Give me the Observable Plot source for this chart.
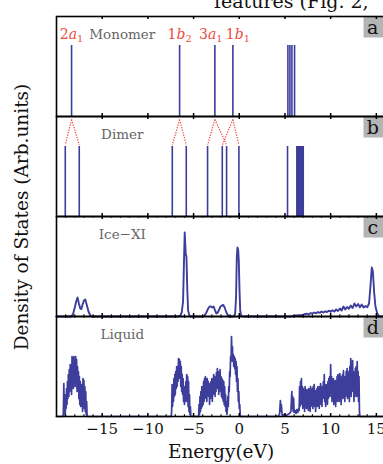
<!DOCTYPE html>
<html><head><meta charset="utf-8">
<script src="https://cdn.jsdelivr.net/npm/d3@7"></script>
<script src="https://cdn.jsdelivr.net/npm/@observablehq/plot@0.6"></script>
<style>
html,body{margin:0;padding:0;background:#fff;}
#wrap{position:relative;width:383px;height:464px;overflow:hidden;background:#fff;}
#chart{position:absolute;left:0;top:0;}
#chart svg{max-width:none;}
.txt{position:absolute;font-family:"DejaVu Serif",serif;color:#111;white-space:nowrap;line-height:1;}
#cut{left:214px;top:-8px;font-size:19px;}
#ylab{left:22px;top:217px;font-size:18.5px;transform:translate(-50%,-50%) rotate(-90deg);}
#xlab{left:221px;top:443px;font-size:18.5px;transform:translateX(-50%);}
</style></head>
<body><div id="wrap"><div id="chart"></div>
<div class="txt" id="cut">features (Fig. 2,</div>
<div class="txt" id="ylab">Density of States (Arb.units)</div>
<div class="txt" id="xlab">Energy(eV)</div>
</div>
<script>
// ---- data ----
const panels = ["a", "b", "c", "d"];
const panelNames = ["Monomer", "Dimer", "Ice\u2212XI", "Liquid"];
const xTicks = [-15, -10, -5, 0, 5, 10, 15];
const minorTicks = [-19,-18,-17,-16,-14,-13,-12,-11,-9,-8,-7,-6,-4,-3,-2,-1,1,2,3,4,6,7,8,9,11,12,13,14];

// monomer levels (eV)
const monomerE = [-18.35, -6.53, -2.67, -0.70, 5.32, 5.54, 5.76, 6.05];
const orbitalNames = ["2a1", "1b2", "3a1", "1b1"];
const orbitalE = [-18.35, -6.53, -2.67, -0.70];
// dimer levels (eV)
const dimerE = [-19.04, -17.51, -7.33, -5.80, -3.47, -1.86, -1.39, -0.04, 5.28,
  6.30, 6.40, 6.50, 6.60, 6.70, 6.80, 6.90, 7.00];
// monomer -> dimer splitting [from, to]
const splits = [[-18.35, -19.04], [-18.35, -17.51], [-6.53, -7.33], [-6.53, -5.80],
  [-2.67, -3.47], [-2.67, -1.39], [-0.70, -1.86], [-0.70, -0.04]];
const monomerH = 0.71, dimerH = 0.70;

// Ice-XI DOS [E, dos]
const iceXI = [[-20,0],[-18.4,0],[-18.2,0.02],[-18.0,0.09],[-17.85,0.15],[-17.7,0.19],[-17.55,0.13],[-17.4,0.08],[-17.27,0.075],[-17.15,0.12],[-17.0,0.16],[-16.85,0.17],[-16.7,0.12],[-16.5,0.05],[-16.3,0.01],[-16.1,0],
[-6.7,0],[-6.45,0.01],[-6.3,0.04],[-6.15,0.15],[-6.05,0.55],[-5.97,0.84],[-5.9,0.7],[-5.85,0.62],[-5.78,0.6],[-5.7,0.3],[-5.6,0.06],[-5.45,0.01],[-5.3,0],
[-4.0,0],[-3.8,0.01],[-3.6,0.04],[-3.4,0.08],[-3.25,0.1],[-3.1,0.1],[-2.95,0.09],[-2.8,0.1],[-2.65,0.06],[-2.5,0.03],[-2.35,0.04],[-2.2,0.07],[-2.05,0.1],[-1.9,0.11],[-1.75,0.115],[-1.6,0.09],[-1.45,0.05],[-1.3,0.02],[-1.1,0],
[-0.6,0],[-0.45,0.03],[-0.35,0.2],[-0.27,0.6],[-0.2,0.69],[-0.12,0.67],[-0.05,0.55],[0.03,0.25],[0.1,0.06],[0.2,0.01],[0.4,0],
[5.6,0],[5.9,0.005],[6.2,0.01],[6.5,0.014],[6.8,0.012],[7.1,0.022],[7.4,0.028],[7.6,0.02],[7.8,0.034],[8.0,0.03],[8.2,0.04],[8.4,0.032],[8.6,0.045],[8.8,0.036],[9.0,0.05],[9.2,0.04],[9.4,0.052],[9.6,0.045],[9.8,0.058],[10.0,0.048],[10.2,0.062],[10.4,0.05],[10.6,0.07],[10.8,0.055],[11.0,0.08],[11.2,0.06],[11.4,0.1],[11.6,0.07],[11.8,0.095],[12.0,0.078],[12.2,0.11],[12.4,0.085],[12.6,0.13],[12.8,0.1],[13.0,0.125],[13.2,0.092],[13.4,0.12],[13.6,0.09],[13.8,0.105],[14.0,0.092],[14.2,0.13],[14.35,0.3],[14.5,0.49],[14.62,0.45],[14.75,0.25],[14.9,0.1],[15.1,0.03],[15.3,0],[16,0]];

// Liquid DOS [E, dos]
const liquid = [[-20,0],[-19.35,0],[-19.25,0.02],[-19.2,0.33],[-19.15,0.04],[-19.1,0.22],[-19.05,0.0],[-19.0,0.18],[-18.95,0.08],[-18.9,0.28],[-18.85,0.12],[-18.8,0.35],[-18.75,0.18],[-18.7,0.42],[-18.65,0.2],[-18.6,0.47],[-18.55,0.25],[-18.5,0.52],[-18.45,0.3],[-18.4,0.5],[-18.35,0.22],[-18.3,0.6],[-18.25,0.35],[-18.2,0.58],[-18.15,0.28],[-18.1,0.6],[-18.05,0.4],[-18.0,0.55],[-17.95,0.3],[-17.9,0.6],[-17.85,0.32],[-17.8,0.57],[-17.75,0.25],[-17.7,0.5],[-17.65,0.3],[-17.6,0.45],[-17.55,0.18],[-17.5,0.4],[-17.45,0.12],[-17.4,0.35],[-17.35,0.1],[-17.3,0.32],[-17.25,0.15],[-17.2,0.28],[-17.15,0.05],[-17.1,0.38],[-17.05,0.12],[-17.0,0.36],[-16.95,0.08],[-16.9,0.3],[-16.85,0.05],[-16.8,0.25],[-16.75,0.02],[-16.7,0.15],[-16.65,0],
[-7.45,0],[-7.4,0.05],[-7.35,0.32],[-7.3,0.1],[-7.25,0.3],[-7.2,0.15],[-7.15,0.38],[-7.1,0.2],[-7.05,0.42],[-7.0,0.22],[-6.95,0.45],[-6.9,0.28],[-6.85,0.5],[-6.8,0.3],[-6.75,0.48],[-6.7,0.35],[-6.65,0.58],[-6.6,0.38],[-6.55,0.57],[-6.5,0.4],[-6.45,0.55],[-6.4,0.3],[-6.35,0.5],[-6.3,0.25],[-6.25,0.42],[-6.2,0.22],[-6.15,0.38],[-6.1,0.15],[-6.05,0.3],[-6.0,0.12],[-5.95,0.25],[-5.9,0.2],[-5.85,0.35],[-5.8,0.15],[-5.75,0.42],[-5.7,0.18],[-5.65,0.4],[-5.6,0.1],[-5.55,0.35],[-5.5,0.05],[-5.45,0.22],[-5.4,0.02],[-5.35,0.1],[-5.3,0],
[-4.45,0],[-4.4,0.12],[-4.35,0.02],[-4.3,0.2],[-4.25,0.05],[-4.2,0.25],[-4.15,0.08],[-4.1,0.3],[-4.05,0.1],[-4.0,0.28],[-3.95,0.12],[-3.9,0.35],[-3.85,0.15],[-3.8,0.38],[-3.75,0.18],[-3.7,0.4],[-3.65,0.2],[-3.6,0.36],[-3.55,0.15],[-3.5,0.38],[-3.45,0.22],[-3.4,0.35],[-3.35,0.2],[-3.3,0.33],[-3.25,0.12],[-3.2,0.3],[-3.15,0.18],[-3.1,0.35],[-3.05,0.2],[-3.0,0.38],[-2.95,0.15],[-2.9,0.34],[-2.85,0.22],[-2.8,0.42],[-2.75,0.25],[-2.7,0.4],[-2.65,0.2],[-2.6,0.38],[-2.55,0.25],[-2.5,0.44],[-2.45,0.3],[-2.4,0.48],[-2.35,0.28],[-2.3,0.45],[-2.25,0.22],[-2.2,0.42],[-2.15,0.3],[-2.1,0.47],[-2.05,0.25],[-2.0,0.4],[-1.95,0.2],[-1.9,0.38],[-1.85,0.18],[-1.8,0.36],[-1.75,0.15],[-1.7,0.35],[-1.65,0.12],[-1.6,0.3],[-1.55,0.1],[-1.5,0.22],[-1.45,0.05],[-1.4,0.15],[-1.35,0.02],[-1.3,0.08],[-1.25,0.2],[-1.2,0.1],[-1.15,0.3],[-1.1,0.25],[-1.05,0.45],[-1.0,0.4],[-0.95,0.6],[-0.9,0.55],[-0.85,0.8],[-0.8,0.6],[-0.75,0.7],[-0.7,0.55],[-0.65,0.62],[-0.6,0.5],[-0.55,0.6],[-0.5,0.48],[-0.45,0.58],[-0.4,0.42],[-0.35,0.55],[-0.3,0.35],[-0.25,0.5],[-0.2,0.25],[-0.15,0.38],[-0.1,0.15],[-0.05,0.25],[0.0,0.08],[0.05,0.12],[0.1,0.02],[0.15,0],
[4.2,0],[4.4,0.02],[4.5,0.16],[4.55,0.05],[4.6,0.12],[4.7,0.01],[4.9,0.02],[5.1,0.01],[5.3,0.02],[5.5,0.03],[5.65,0.05],[5.75,0.25],[5.8,0.08],[5.85,0.2],[5.9,0.05],[5.95,0.18],[6.0,0.04],[6.1,0.06],[6.2,0.03],[6.3,0.07],[6.4,0.04],[6.5,0.08],[6.55,0.06],[6.6,0.3],[6.65,0.1],[6.7,0.35],[6.75,0.12],[6.8,0.38],[6.85,0.15],[6.9,0.3],[6.95,0.08],[7.0,0.28],[7.05,0.1],[7.1,0.25],[7.15,0.05],[7.2,0.3],[7.25,0.12],[7.3,0.22],[7.35,0.08],[7.4,0.27],[7.45,0.1],[7.5,0.25],[7.55,0.06],[7.6,0.28],[7.65,0.12],[7.7,0.22],[7.75,0.05],[7.8,0.3],[7.85,0.1],[7.9,0.25],[7.95,0.12],[8.0,0.28],[8.05,0.08],[8.1,0.3],[8.15,0.15],[8.2,0.32],[8.25,0.1],[8.3,0.26],[8.35,0.05],[8.4,0.22],[8.45,0.12],[8.5,0.28],[8.55,0.1],[8.6,0.3],[8.65,0.14],[8.7,0.25],[8.75,0.08],[8.8,0.3],[8.85,0.12],[8.9,0.33],[8.95,0.15],[9.0,0.3],[9.05,0.1],[9.1,0.28],[9.15,0.18],[9.2,0.35],[9.25,0.2],[9.3,0.42],[9.35,0.15],[9.4,0.3],[9.45,0.1],[9.5,0.32],[9.55,0.15],[9.6,0.3],[9.65,0.12],[9.7,0.35],[9.75,0.18],[9.8,0.38],[9.85,0.2],[9.9,0.4],[9.95,0.25],[10.0,0.52],[10.05,0.2],[10.1,0.4],[10.15,0.15],[10.2,0.35],[10.25,0.2],[10.3,0.38],[10.35,0.12],[10.4,0.33],[10.45,0.18],[10.5,0.36],[10.55,0.1],[10.6,0.35],[10.65,0.2],[10.7,0.4],[10.75,0.15],[10.8,0.42],[10.85,0.22],[10.9,0.38],[10.95,0.15],[11.0,0.43],[11.05,0.2],[11.1,0.4],[11.15,0.12],[11.2,0.35],[11.25,0.2],[11.3,0.42],[11.35,0.18],[11.4,0.46],[11.45,0.25],[11.5,0.4],[11.55,0.15],[11.6,0.38],[11.65,0.2],[11.7,0.45],[11.75,0.22],[11.8,0.48],[11.85,0.18],[11.9,0.42],[11.95,0.25],[12.0,0.45],[12.05,0.15],[12.1,0.5],[12.15,0.3],[12.2,0.58],[12.25,0.2],[12.3,0.48],[12.35,0.25],[12.4,0.56],[12.45,0.3],[12.5,0.45],[12.55,0.15],[12.6,0.42],[12.65,0.2],[12.7,0.48],[12.75,0.25],[12.8,0.5],[12.85,0.2],[12.9,0.55],[12.95,0.3],[13.0,0.45],[13.05,0.15],[13.1,0.4],[13.15,0.05],[13.2,0],[16,0]];

// ---- build tables ----
const blue = "#3d3d9b", red = "#ee4a3c";
const monoRows = monomerE.map(E => ({E, h: monomerH, p: "a"}));
const dimerRows = dimerE.map(E => ({E, h: dimerH, p: "b"}));
const splitRows = splits.map(([from, to]) => ({from, to, p: "b"}));
const iceRows = iceXI.map(([E, v]) => ({E, v, p: "c"}));
const liqRows = liquid.map(([E, v]) => ({E, v, p: "d"}));
const labelShift = {"3a1": -0.45, "1b1": 0.55};
const orbRows = orbitalNames.map((name, i) => ({name, E: orbitalE[i] + (labelShift[name] || 0), p: "a"}));
const nameRows = panels.map((p, i) => ({p, name: panelNames[i]}));
const minorRows = ["c", "d"].flatMap(p => minorTicks.map(E => ({E, p})));

const chart = Plot.plot({
  width: 385, height: 464,
  marginTop: 14.5, marginBottom: 46, marginLeft: 56, marginRight: 0,
  style: {fontFamily: '"DejaVu Serif", serif', fontSize: "15px", background: "transparent", maxWidth: "none", color: "#111"},
  x: {domain: [-20, 16]},
  y: {domain: [0, 1], axis: null},
  fy: {domain: panels, padding: 0, axis: null},
  marks: [
    Plot.rect(panels, {fy: d => d, x1: 13.65, x2: 16, y1: 0.785, y2: 1, fill: "#b4b4b4"}),
    Plot.text(panels, {fy: d => d, x: 14.6, y: 0.885, text: d => d, fontSize: 19, fill: "#111"}),
    Plot.text(nameRows, {fy: "p", x: -12.8, y: 0.815, text: "name", fontSize: 13.5, fill: "#666"}),
    Plot.text(orbRows, {fy: "p", x: "E", y: 0.815, text: "name", fontSize: 14, fill: red}),
    Plot.ruleX(monoRows, {fy: "p", x: "E", y1: 0, y2: "h", stroke: blue, strokeWidth: 1.6}),
    Plot.ruleX(dimerRows, {fy: "p", x: "E", y1: 0, y2: "h", stroke: blue, strokeWidth: 1.6}),
    Plot.link(splitRows, {fy: "p", x1: "from", x2: "to", y1: 0.97, y2: 0.715, stroke: red, strokeWidth: 1.2, strokeDasharray: "1.3,1.3"}),
    Plot.line(iceRows, {fy: "p", x: "E", y: "v", stroke: blue, strokeWidth: 1.9}),
    Plot.line(liqRows, {fy: "p", x: "E", y: "v", stroke: blue, strokeWidth: 1.7}),
    Plot.ruleX(xTicks, {x: d => d, y1: 0, y2: 0.03, stroke: "#000", strokeWidth: 1.5}),
    Plot.ruleX(xTicks, {x: d => d, y1: 0.97, y2: 1, stroke: "#000", strokeWidth: 1.5}),
    Plot.ruleX(minorRows, {fy: "p", x: "E", y1: 0, y2: 0.018, stroke: "#000", strokeWidth: 1.1}),
    Plot.ruleX(minorRows, {fy: "p", x: "E", y1: 0.982, y2: 1, stroke: "#000", strokeWidth: 1.1}),
    Plot.frame({stroke: "#000", strokeWidth: 1.6}),
    Plot.axisX(xTicks, {anchor: "bottom", tickSize: 0, tickPadding: 7, fontSize: 15, label: null, fill: "#111"})
  ]
});
document.getElementById("chart").appendChild(chart);

// orbital labels: upright number, italic letter, subscript
d3.select(chart).selectAll("text").each(function () {
  const t = this.textContent;
  if (!orbitalNames.includes(t)) return;
  const el = d3.select(this);
  el.text(null);
  el.append("tspan").text(t[0]);
  el.append("tspan").attr("font-style", "italic").text(t[1]);
  el.append("tspan").attr("font-size", "0.7em").attr("dy", "0.3em").text(t[2]);
});
</script>
</body></html>
